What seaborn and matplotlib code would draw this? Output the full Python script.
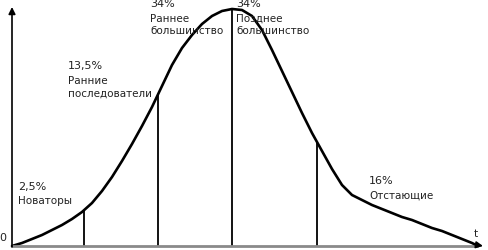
import matplotlib
matplotlib.use("Agg")
import matplotlib.pyplot as plt
import seaborn as sns
import pandas as pd

# Diffusion-of-innovations curve (time t vs. share)
t_vals = [0, 10, 20, 30, 40, 50, 60, 70, 80, 90, 100, 110, 120, 130, 140,
          150, 160, 170, 180, 190, 200, 210, 220, 230, 240, 250, 260, 270,
          280, 290, 300, 310, 320, 330, 340, 350, 360, 370, 380, 390, 400,
          410, 420, 430, 440, 450, 460, 466]
y_vals = [0, 3, 7, 11, 16, 21, 27, 34, 43, 55, 69, 85, 102, 120, 139,
          160, 181, 198, 211, 222, 230, 235, 237, 236, 230, 216, 196, 175,
          154, 133, 113, 95, 77, 61, 51, 46, 41, 37, 33, 29, 26,
          22, 18, 15, 11, 7, 3, 0]

# Segment boundaries and the curve height there
bound_t = [72, 146, 220, 305]
bound_h = [36, 152, 237, 104]

# Segment labels
pct_labels = ["2,5%", "13,5%", "34%", "34%", "16%"]
name_labels = ["Новаторы", "Ранние\nпоследователи", "Раннее\nбольшинство",
               "Позднее\nбольшинство", "Отстающие"]
label_pos = [(6, 60), (56, 181), (138, 243), (224, 243), (357, 66)]

sns.set_style("white")
plt.rcParams['font.family'] = ['DejaVu Sans']

fig = plt.figure(figsize=(4.88, 2.51), dpi=100)
ax = fig.add_axes([0, 0, 1, 1])

df = pd.DataFrame({"t": t_vals, "y": y_vals})
sns.lineplot(data=df, x="t", y="y", ax=ax, color="black", linewidth=1.9,
             sort=False, estimator=None)

ax.vlines(bound_t, 0, bound_h, color="black", linewidth=1.3)

# axes with arrows
ax.annotate("", xy=(0, 239), xytext=(0, -1),
            arrowprops=dict(arrowstyle="-|>,head_length=0.4,head_width=0.2",
                            color="black", lw=1.2, shrinkA=0, shrinkB=0))
ax.plot([0, 466], [0, 0], color="#8a8a8a", linewidth=2.0, solid_capstyle="butt")
ax.annotate("", xy=(471, 0), xytext=(462, 1.5),
            arrowprops=dict(arrowstyle="-|>,head_length=0.4,head_width=0.2",
                            color="black", lw=1.2, shrinkA=0, shrinkB=0))

tc = "#222222"
for (x, y), p, n in zip(label_pos, pct_labels, name_labels):
    ax.text(x, y, p, fontsize=8, color=tc, ha="left", va="center")
    lines = n.split("\n")
    for i, ln in enumerate(lines):
        ax.text(x, y - 14.5 - 13 * i, ln, fontsize=7.5, color=tc,
                ha="left", va="center")

ax.text(-9, 9, "0", fontsize=8, color=tc, ha="center", va="center")
ax.text(464, 13, "t", fontsize=7.5, color=tc, ha="center", va="center")

ax.set_xlim(-12, 476)
ax.set_ylim(-4, 247)
ax.set_axis_off()

fig.savefig("out.png", dpi=100)
